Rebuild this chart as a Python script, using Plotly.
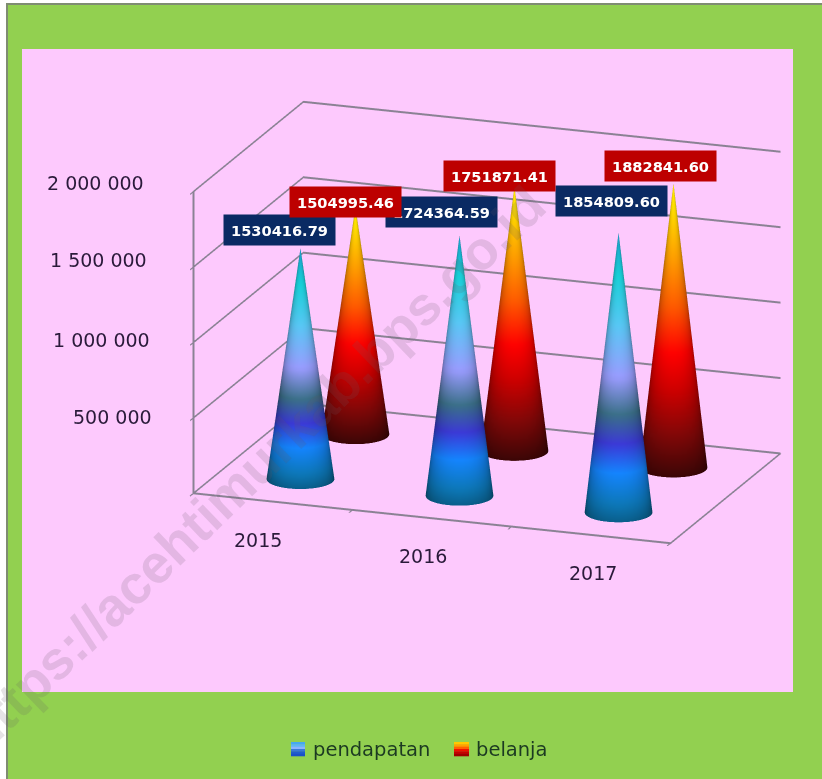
import numpy as np
import plotly.graph_objects as go

W, H = 822, 779
categories = ["2015", "2016", "2017"]
series_names = ["pendapatan", "belanja"]
pendapatan = [1530416.79, 1724364.59, 1854809.60]
belanja = [1504995.46, 1751871.41, 1882841.60]
z_ticks = [0, 500000, 1000000, 1500000, 2000000]
z_labels = ["", "500 000", "1 000 000", "1 500 000", "2 000 000"]

blue_scale = [[0, "#0a5f8c"], [0.06, "#0d78b8"], [0.17, "#1585ff"], [0.27, "#3c3ad8"], [0.37, "#3a7088"],
              [0.50, "#9a9cff"], [0.68, "#58c8f5"], [0.85, "#18d0d8"], [1, "#1a9cc8"]]
red_scale = [[0, "#3c0606"], [0.14, "#800808"], [0.30, "#d00000"], [0.42, "#ff0000"], [0.58, "#ff5a00"],
             [0.75, "#ffa000"], [0.92, "#ffe000"], [1, "#ffe800"]]

ASPECT = dict(x=1.301, y=0.837, z=0.81)
XR, YR = [-0.5, 2.5], [-0.5, 1.5]
R = 0.087
rx, ry = R * 3 / ASPECT["x"], R * 2 / ASPECT["y"]
theta, phi, dist = np.radians(19.7), np.radians(17.0), 3.06
PX = 389.6

def ramp(scale, f):
    pos = [p for p, _ in scale]
    rgb = np.array([[int(c[i:i + 2], 16) for i in (1, 3, 5)] for _, c in scale], float)
    return np.stack([np.interp(f, pos, rgb[:, k]) for k in range(3)], axis=-1)

def cone(cx, cy, h, scale, name):
    nt, nf = 96, 60
    t = np.linspace(0, 2 * np.pi, nt)
    f = np.linspace(0, 1, nf)
    T, F = np.meshgrid(t, f)
    X = cx + rx * (1 - F) * np.cos(T)
    Y = cy + ry * (1 - F) * np.sin(T)
    Z = h * F
    a0 = np.arctan2(-np.cos(theta), np.sin(theta))
    shade = 0.52 + 0.48 * np.clip(np.cos(T - a0), 0, 1) ** 0.6
    cols = ramp(scale, F) * shade[..., None]
    vc = [f"rgb({int(c[0])},{int(c[1])},{int(c[2])})" for c in cols.reshape(-1, 3)]
    idx = np.arange(nt * nf).reshape(nf, nt)
    a, b, c, e = idx[:-1, :-1].ravel(), idx[:-1, 1:].ravel(), idx[1:, 1:].ravel(), idx[1:, :-1].ravel()
    return go.Mesh3d(x=X.ravel(), y=Y.ravel(), z=Z.ravel(),
                     i=np.r_[a, a], j=np.r_[b, c], k=np.r_[c, e], vertexcolor=vc,
                     name=name, hoverinfo="skip", flatshading=False,
                     lighting=dict(ambient=1.0, diffuse=0.0, specular=0.0, roughness=1.0, fresnel=0.0))

traces = []
for j, (vals, scale, nm) in enumerate([(belanja, red_scale, "belanja"), (pendapatan, blue_scale, "pendapatan")]):
    y0 = 1 - j
    for i, v in enumerate(vals):
        traces.append(cone(i, y0, v, scale, nm))
fig = go.Figure(traces)

axis_font = dict(family="DejaVu Sans", size=19, color="#2a1a3a")
annots = []
year_dx = [-15, -9, 2]
for i, c in enumerate(categories):
    annots.append(dict(x=i, y=YR[0], z=0, text=c, showarrow=False, xshift=year_dx[i], yshift=-38, font=axis_font))
label_dy = [0, 1, 2, 7, 9]
label_dx = [0, -39, -41, -44, -47]
for v, t, dx, dy in zip(z_ticks, z_labels, label_dx, label_dy):
    if t:
        annots.append(dict(x=XR[0], y=YR[0], z=v, text=t, showarrow=False, xanchor="right", xshift=dx, yshift=dy,
                           font=axis_font))
pend_dx, pend_dy = [-21, -18, -7], [18, 24, 32]
bel_dx, bel_dy = [-10, -15, -13], [5, 11, 18]
for i in range(3):
    annots.append(dict(x=i, y=0, z=pendapatan[i], text=f"{pendapatan[i]:.2f}", showarrow=False,
                       xshift=pend_dx[i], yshift=pend_dy[i],
                       width=109, height=28, bgcolor="#0a2a63", align="center",
                       font=dict(family="DejaVu Sans", size=14.6, color="white", weight="bold")))
for i in range(3):
    annots.append(dict(x=i, y=1, z=belanja[i], text=f"{belanja[i]:.2f}", showarrow=False,
                       xshift=bel_dx[i], yshift=bel_dy[i],
                       width=109, height=28, bgcolor="#bd0000", align="center",
                       font=dict(family="DejaVu Sans", size=14.6, color="white", weight="bold")))

axis_common = dict(showbackground=False, showspikes=False, title=dict(text=""), zeroline=False)
line_col = "#8a8294"
d = np.array([np.sin(theta) * np.cos(phi), -np.cos(theta) * np.cos(phi), np.sin(phi)])
r = np.array([np.cos(theta), np.sin(theta), 0.0])
u = np.array([-np.sin(theta) * np.sin(phi), np.cos(theta) * np.sin(phi), np.cos(phi)])
C = -(76 / PX) * r - (67 / PX) * u
E = C + dist * d
scene = dict(
    domain=dict(x=[0, 1], y=[0, 1]),
    bgcolor="rgba(0,0,0,0)",
    aspectmode="manual", aspectratio=ASPECT,
    camera=dict(eye=dict(x=E[0], y=E[1], z=E[2]), center=dict(x=C[0], y=C[1], z=C[2]), up=dict(x=0, y=0, z=1),
                projection=dict(type="orthographic")),
    xaxis=dict(range=XR, tickvals=[-0.5, 0.5, 1.5, 2.5], ticktext=["", "", "", ""], showgrid=False, showline=True,
               linecolor=line_col, linewidth=4, ticks="outside", tickcolor=line_col, tickwidth=3, ticklen=8, **axis_common),
    yaxis=dict(range=YR, showticklabels=False, showgrid=False, showline=True, ticks="",
               linecolor=line_col, linewidth=4, **axis_common),
    zaxis=dict(range=[0, 2000000], tickvals=z_ticks, ticktext=[""] * 5, showgrid=True, gridcolor=line_col, gridwidth=4,
               showline=True, linecolor=line_col, linewidth=4, ticks="outside", tickcolor=line_col, tickwidth=3, ticklen=8,
               **axis_common),
    annotations=annots,
)

def rect(x0, y0, x1, y1, color):
    return dict(type="rect", xref="paper", yref="paper", x0=x0 / W, x1=x1 / W, y0=1 - y0 / H, y1=1 - y1 / H,
                fillcolor=color, line=dict(width=0), layer="below")

shapes = [rect(6, 3, W, H, "#7f8c72"), rect(8, 5, W, H, "#92d050"), rect(22, 49, 793, 692, "#fdc9fd")]
pend_sw = ["#45a8f0", "#5cb4f5", "#8ab4ff", "#3a78d8", "#1f5cd0", "#1a50c8"]
bel_sw = ["#ffc800", "#ffa000", "#ff6000", "#f01000", "#c80000", "#a00000"]
top_shapes = []
for k in range(6):
    y = 742 + k * 14 / 6
    top_shapes.append({**rect(291, y, 305, y + 14 / 6 + 0.3, pend_sw[k]), "layer": "above"})
    top_shapes.append({**rect(454, y, 469, y + 14 / 6 + 0.3, bel_sw[k]), "layer": "above"})

layout_ann = [
    dict(xref="paper", yref="paper", x=311 / W, y=1 - 749 / H, xanchor="left", yanchor="middle", showarrow=False,
         text=series_names[0], font=dict(family="DejaVu Sans", size=19.5, color="#1c3a22")),
    dict(xref="paper", yref="paper", x=474 / W, y=1 - 749 / H, xanchor="left", yanchor="middle", showarrow=False,
         text=series_names[1], font=dict(family="DejaVu Sans", size=19.5, color="#1c3a22")),
    dict(xref="paper", yref="paper", x=253 / W, y=1 - 469 / H, xanchor="center", yanchor="middle", showarrow=False,
         text="https://acehtimurkab.bps.go.id", textangle=-44,
         font=dict(family="Liberation Sans", size=54, color="rgba(100,90,100,0.17)", weight="bold")),
]

fig.update_layout(width=W, height=H, margin=dict(l=0, r=0, t=0, b=0), paper_bgcolor="white", showlegend=False,
                  scene=scene, shapes=shapes + top_shapes, annotations=layout_ann, hovermode=False)
fig.write_html("out.html", config=dict(displayModeBar=False),
               post_script="document.body.style.margin='0';document.documentElement.style.overflow='hidden';")
